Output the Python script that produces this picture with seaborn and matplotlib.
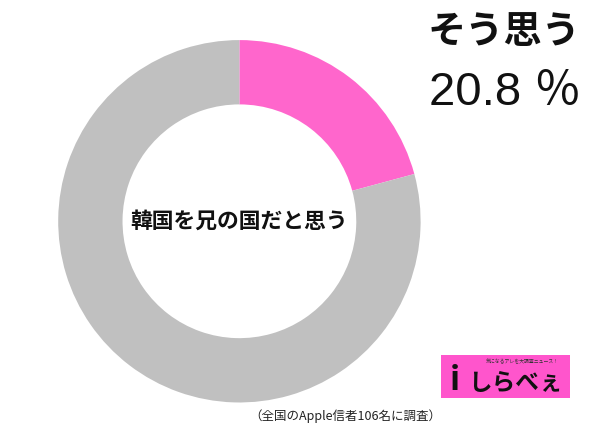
import matplotlib
matplotlib.use("Agg")
import matplotlib.pyplot as plt
import seaborn as sns
from matplotlib.patches import Rectangle

sns.set_theme(style="white")
plt.rcParams['font.family'] = ['Noto Sans CJK JP', 'DejaVu Sans']

labels = ["そう思う", "そう思わない"]
values = [20.8, 79.2]
colors = ["#FF66CC", "#C0C0C0"]
center_label = "韓国を兄の国だと思う"
headline = "そう思う"
headline_value = "20.8 ％"
note = "（全国のApple信者106名に調査）"

fig = plt.figure(figsize=(6, 4.28), dpi=100)
fig.patch.set_facecolor("white")

ax = fig.add_axes([0.097, 0.0595, 0.604, 0.847])
ax.pie(values, colors=colors, startangle=90, counterclock=False,
       radius=1.0, wedgeprops=dict(width=0.355, edgecolor="none"))
ax.set_xlim(-1, 1)
ax.set_ylim(-1, 1)
ax.set_aspect("equal")
ax.axis("off")
ax.text(0, 0, center_label, ha="center", va="center", fontsize=15.7,
        fontweight="bold", color="#111111")

fig.text(504/600, 1 - 32/428, headline, ha="center", va="center",
         fontsize=27.5, fontweight="bold", color="#111111")
fig.text(505/600, 1 - 93/428, headline_value, ha="center", va="center",
         fontsize=34, color="#111111",
         family=['Liberation Sans', 'Noto Sans CJK JP'])

fig.text(345/600, 1 - 416/428, note, ha="center", va="center",
         fontsize=9, color="#222222")

# logo
fig.patches.append(Rectangle((441/600, 1 - 398/428), 129/600, 43/428,
                             transform=fig.transFigure, facecolor="#FF55CC",
                             edgecolor="none"))
fig.text(522/600, 1 - 362/428, "気になるアレを大調査ニュース！", ha="center",
         va="center", fontsize=3.5, color="#333333")
fig.text(455/600, 1 - 380/428, "i", ha="center", va="center",
         fontsize=24, fontweight="bold", color="#111111")
fig.text(515/600, 1 - 383/428, "しらべぇ", ha="center", va="center",
         fontsize=17, fontweight="bold", color="#111111")

fig.savefig("out.png", dpi=100)
